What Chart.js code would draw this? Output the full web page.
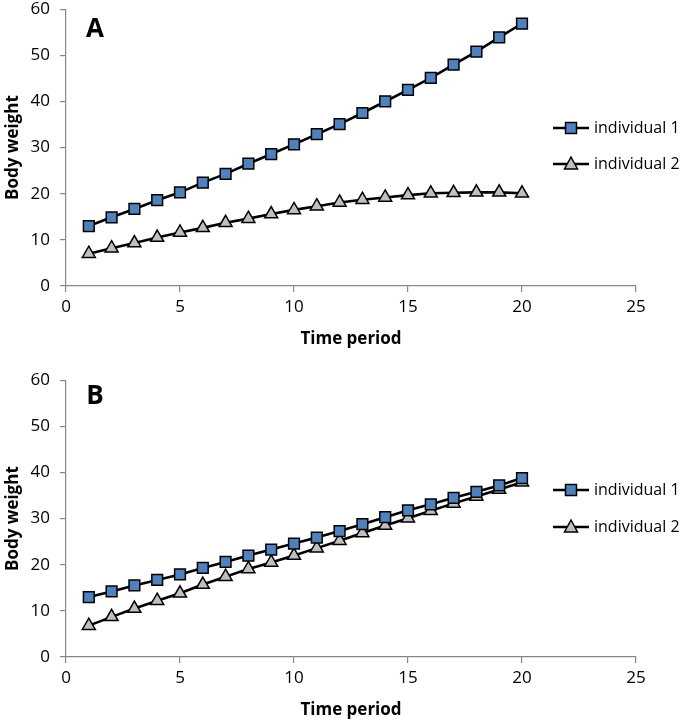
<!DOCTYPE html>
<html>
<head>
<meta charset="utf-8">
<script src="https://cdn.jsdelivr.net/npm/chart.js@4/dist/chart.umd.min.js"></script>
<style>
  html, body { margin: 0; padding: 0; background: #fff; }
  body { width: 685px; height: 722px; position: relative; overflow: hidden; }
  .panel { position: absolute; left: 0; width: 685px; height: 362px; }
  #panelA { top: -11px; }
  #panelB { top: 360px; }
</style>
</head>
<body>
<div class="panel" id="panelA"><canvas id="chartA"></canvas></div>
<div class="panel" id="panelB"><canvas id="chartB"></canvas></div>
<script>
const timePeriods = [1, 2, 3, 4, 5, 6, 7, 8, 9, 10, 11, 12, 13, 14, 15, 16, 17, 18, 19, 20];
const seriesNames = ['individual 1', 'individual 2'];

// panel A
const aIndividual1 = [13.0, 14.9, 16.7, 18.6, 20.3, 22.4, 24.3, 26.5, 28.6, 30.7, 32.9, 35.1, 37.5, 40.0, 42.5, 45.1, 48.0, 50.8, 53.9, 56.9];
const aIndividual2 = [7.0, 8.2, 9.3, 10.5, 11.6, 12.6, 13.7, 14.6, 15.6, 16.5, 17.3, 18.1, 18.7, 19.2, 19.7, 20.1, 20.2, 20.3, 20.3, 20.1];

// panel B
const bIndividual1 = [13.0, 14.2, 15.5, 16.7, 17.9, 19.3, 20.6, 22.0, 23.3, 24.6, 25.9, 27.3, 28.8, 30.3, 31.8, 33.1, 34.5, 35.8, 37.2, 38.8];
const bIndividual2 = [6.8, 8.7, 10.5, 12.2, 13.8, 15.7, 17.4, 19.1, 20.5, 22.0, 23.6, 25.2, 26.9, 28.5, 30.1, 31.7, 33.3, 34.8, 36.3, 37.9];

const xTicks = [0, 5, 10, 15, 20, 25];
const yTicks = [0, 10, 20, 30, 40, 50, 60];

const FONT = '"Open Sans", "DejaVu Sans", sans-serif';
const AXIS_GREY = '#868686';

function toPoints(values) {
  return values.map((v, i) => ({ x: timePeriods[i], y: v }));
}

// line-with-marker legend and the panel letter, drawn by hand
const decorPlugin = {
  id: 'decor',
  afterDraw(chart, args, opts) {
    const ctx = chart.ctx;
    ctx.save();
    ctx.font = 'bold 26px ' + FONT;
    ctx.fillStyle = '#000';
    ctx.textAlign = 'center';
    ctx.textBaseline = 'middle';
    ctx.fillText(opts.letter, opts.letterX, opts.letterY);

    chart.data.datasets.forEach((ds, i) => {
      const y = opts.legendY + i * opts.legendGap;
      const x0 = opts.legendX;
      ctx.strokeStyle = '#000';
      ctx.lineWidth = 2.5;
      ctx.beginPath();
      ctx.moveTo(x0, y);
      ctx.lineTo(x0 + 36, y);
      ctx.stroke();

      const cx = x0 + 18;
      ctx.fillStyle = ds.pointBackgroundColor;
      ctx.lineWidth = 1.5;
      ctx.beginPath();
      if (ds.pointStyle === 'rect') {
        ctx.rect(cx - 5.5, y - 5.5, 11, 11);
      } else {
        ctx.moveTo(cx, y - 7);
        ctx.lineTo(cx + 6.5, y + 5);
        ctx.lineTo(cx - 6.5, y + 5);
        ctx.closePath();
      }
      ctx.fill();
      ctx.stroke();

      ctx.fillStyle = '#000';
      ctx.textAlign = 'left';
      ctx.font = '16px ' + FONT;
      ctx.fillText(ds.label, x0 + 41, y);
    });
    ctx.restore();
  }
};

function makeChart(id, ind1, ind2, decor) {
  return new Chart(document.getElementById(id), {
    type: 'line',
    data: {
      datasets: [
        {
          label: seriesNames[0],
          data: toPoints(ind1),
          borderColor: '#000',
          borderWidth: 2.6,
          pointStyle: 'rect',
          pointRadius: 7.6,
          pointBackgroundColor: '#4F81BD',
          pointBorderColor: '#000',
          pointBorderWidth: 1.5,
          tension: 0
        },
        {
          label: seriesNames[1],
          data: toPoints(ind2),
          borderColor: '#000',
          borderWidth: 2.6,
          pointStyle: 'triangle',
          pointRadius: 7.5,
          pointBackgroundColor: '#BFBFBF',
          pointBorderColor: '#000',
          pointBorderWidth: 1.5,
          tension: 0
        }
      ]
    },
    options: {
      responsive: true,
      maintainAspectRatio: false,
      animation: false,
      layout: { padding: { left: 0, right: 49, top: 0, bottom: 0 } },
      plugins: {
        legend: { display: false },
        tooltip: { enabled: false },
        decor: decor
      },
      scales: {
        x: {
          type: 'linear',
          min: 0,
          max: 25,
          afterBuildTicks: s => { s.ticks = xTicks.map(v => ({ value: v })); },
          afterFit: s => { s.height = 65; },
          grid: { drawOnChartArea: false, drawTicks: true, tickLength: 6, color: AXIS_GREY, lineWidth: 1.2 },
          border: { display: true, color: AXIS_GREY, width: 1.2 },
          ticks: { color: '#000', font: { family: FONT, size: 17 }, padding: 5, maxRotation: 0 },
          title: { display: true, text: 'Time period', color: '#000', font: { family: FONT, size: 17, weight: 'bold' }, padding: { top: 0, bottom: 2 } }
        },
        y: {
          min: 0,
          max: 60,
          afterBuildTicks: s => { s.ticks = yTicks.map(v => ({ value: v })); },
          afterFit: s => { s.width = 66; },
          grid: { drawOnChartArea: false, drawTicks: true, tickLength: 6, color: AXIS_GREY, lineWidth: 1.2 },
          border: { display: true, color: AXIS_GREY, width: 1.2 },
          ticks: { color: '#000', font: { family: FONT, size: 17 }, padding: 10 },
          title: { display: true, text: 'Body weight', color: '#000', font: { family: FONT, size: 17, weight: 'bold' }, padding: { top: 3, bottom: 0 } }
        }
      }
    },
    plugins: [decorPlugin]
  });
}

makeChart('chartA', aIndividual1, aIndividual2,
  { letter: 'A', letterX: 95, letterY: 41, legendX: 553, legendY: 139, legendGap: 36 });
makeChart('chartB', bIndividual1, bIndividual2,
  { letter: 'B', letterX: 95, letterY: 37, legendX: 553, legendY: 130, legendGap: 37 });
</script>
</body>
</html>
